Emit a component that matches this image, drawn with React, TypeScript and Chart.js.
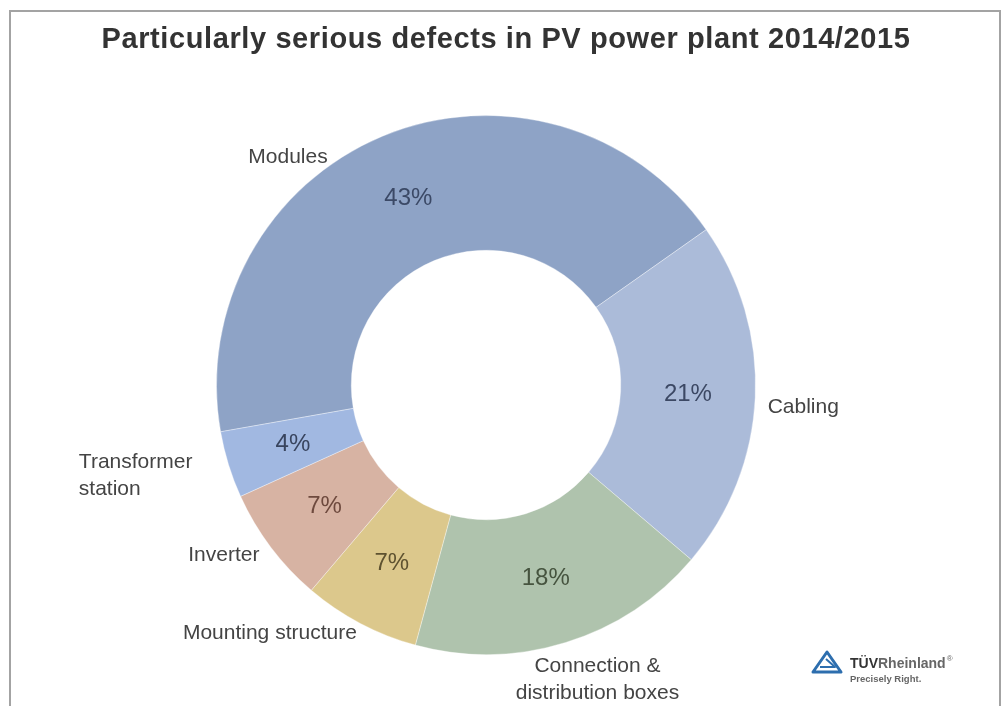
import React, { useEffect, useRef } from "react";
import { Chart, registerables } from "chart.js";

Chart.register(...registerables);

const TITLE = "Particularly serious defects in PV power plant 2014/2015";
const CATEGORIES: string[][] = [
  ["Modules"],
  ["Cabling"],
  ["Connection &", "distribution boxes"],
  ["Mounting structure"],
  ["Inverter"],
  ["Transformer", "station"],
];
const SHARES = [43, 21, 18, 7, 7, 4];

const SEGMENT_COLORS = ["#8ea3c6", "#abbbd9", "#afc3ad", "#dcc88c", "#d7b3a3", "#a1b8e1"];
const VALUE_COLORS = ["#3b4966", "#3c4864", "#46543f", "#5e5230", "#6e4a3e", "#38445e"];

// label placement: angle (deg, clockwise from top), radius as fraction of outer radius, alignment
const LABEL_LAYOUT = [
  { angle: -41, r: 1.12, align: "center" },
  { angle: 94, r: 1.18, align: "center" },
  { angle: 159.3, r: 1.17, align: "center" },
  { angle: 221.1, r: 1.22, align: "center" },
  { angle: 237, r: 1.16, align: "center" },
  { angle: 257.4, r: 1.548, align: "left" },
];

const FONT = "'Liberation Sans', Arial, sans-serif";

const labelsPlugin = {
  id: "pieLabels",
  afterDatasetsDraw(chart: any) {
    const ctx: CanvasRenderingContext2D = chart.ctx;
    const meta = chart.getDatasetMeta(0);
    const data: number[] = chart.data.datasets[0].data;
    const total = data.reduce((a, b) => a + b, 0);
    ctx.save();
    meta.data.forEach((arc: any, i: number) => {
      const p = arc.getCenterPoint();
      ctx.font = `24px ${FONT}`;
      ctx.fillStyle = VALUE_COLORS[i];
      ctx.textAlign = "center";
      ctx.textBaseline = "middle";
      ctx.fillText(Math.round((data[i] / total) * 100) + "%", p.x, p.y);

      const lay = LABEL_LAYOUT[i];
      const a = (lay.angle * Math.PI) / 180;
      const rr = arc.outerRadius * lay.r;
      const lx = arc.x + Math.sin(a) * rr;
      const ly = arc.y - Math.cos(a) * rr;
      const lines = CATEGORIES[i];
      const lh = 27;
      ctx.font = `21px ${FONT}`;
      ctx.fillStyle = "#444444";
      ctx.textAlign = lay.align as CanvasTextAlign;
      lines.forEach((t, k) => {
        ctx.fillText(t, lx, ly + (k - (lines.length - 1) / 2) * lh);
      });
    });
    ctx.restore();
  },
};

const framePlugin = {
  id: "frame",
  beforeDraw(chart: any) {
    const ctx: CanvasRenderingContext2D = chart.ctx;
    ctx.save();
    ctx.fillStyle = "#ffffff";
    ctx.fillRect(0, 0, chart.width, chart.height);
    ctx.strokeStyle = "#a3a3a3";
    ctx.lineWidth = 2;
    ctx.beginPath();
    ctx.moveTo(10, chart.height + 5);
    ctx.lineTo(10, 11);
    ctx.lineTo(1000, 11);
    ctx.lineTo(1000, chart.height + 5);
    ctx.stroke();
    ctx.restore();
  },
  afterDraw(chart: any) {
    const ctx: any = chart.ctx;
    ctx.save();
    // title
    ctx.font = `bold 29px ${FONT}`;
    ctx.fillStyle = "#333333";
    ctx.textAlign = "center";
    ctx.textBaseline = "middle";
    try { ctx.letterSpacing = "0.6px"; } catch (e) {}
    ctx.fillText(TITLE, 506, 40);
    try { ctx.letterSpacing = "0px"; } catch (e) {}

    // logo
    ctx.strokeStyle = "#2d6eae";
    ctx.lineWidth = 3;
    ctx.lineJoin = "round";
    ctx.beginPath();
    ctx.moveTo(827, 652);
    ctx.lineTo(841, 672);
    ctx.lineTo(813, 672);
    ctx.closePath();
    ctx.stroke();
    ctx.lineWidth = 2;
    ctx.beginPath();
    ctx.moveTo(820, 667);
    ctx.lineTo(835, 667);
    ctx.lineTo(826, 659);
    ctx.stroke();

    ctx.textAlign = "left";
    ctx.font = `bold 14px ${FONT}`;
    ctx.fillStyle = "#333333";
    ctx.fillText("TÜV", 850, 664);
    const w = ctx.measureText("TÜV").width;
    ctx.fillStyle = "#666666";
    ctx.fillText("Rheinland", 850 + w, 664);
    const w2 = ctx.measureText("Rheinland").width;
    ctx.font = `8px ${FONT}`;
    ctx.fillText("®", 851 + w + w2, 659);
    ctx.font = `bold 9.5px ${FONT}`;
    ctx.fillStyle = "#666666";
    ctx.fillText("Precisely Right.", 850, 679);
    ctx.restore();
  },
};

export default function App() {
  const ref = useRef<HTMLCanvasElement | null>(null);
  useEffect(() => {
    if (!ref.current) return;
    const chart = new Chart(ref.current, {
      type: "doughnut",
      data: {
        labels: CATEGORIES.map((c) => c.join(" ")),
        datasets: [
          {
            data: SHARES,
            backgroundColor: SEGMENT_COLORS,
            borderColor: "rgba(255,255,255,0.35)",
            borderWidth: 1,
          },
        ],
      },
      options: {
        responsive: false,
        animation: false,
        rotation: -100,
        cutout: "50%",
        layout: { padding: { left: 216, right: 251, top: 115, bottom: 51 } },
        plugins: {
          legend: { display: false },
          title: { display: false },
          tooltip: { enabled: false },
        },
      },
      plugins: [framePlugin, labelsPlugin],
    });
    return () => chart.destroy();
  }, []);
  return (
    <div style={{ position: "absolute", left: 0, top: 0, width: 1007, height: 706, background: "#fff" }}>
      <canvas ref={ref} width={1007} height={706} style={{ display: "block" }} />
    </div>
  );
}
